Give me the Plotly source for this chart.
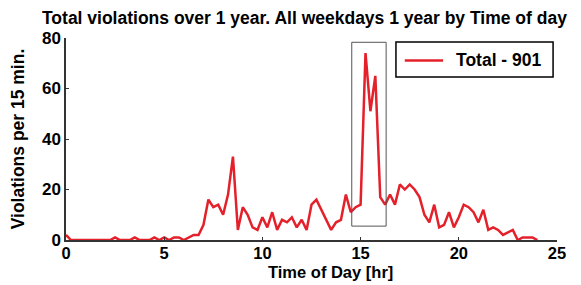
import plotly.graph_objects as go

hours = [i * 0.25 for i in range(97)]
violations = [
    2, 0, 0, 0, 0, 0, 0, 0,      # 0-1.75
    0, 0, 1, 0, 0, 0, 1, 0,      # 2-3.75
    0, 0, 1, 0, 1, 0, 1, 1,      # 4-5.75
    0, 1, 2, 2, 6, 16, 13, 14,   # 6-7.75
    10, 18, 33, 4, 13, 10, 5, 4,  # 8-9.75
    9, 5, 11, 4, 8, 7, 9, 5,     # 10-11.75
    8, 4, 14, 16, 12, 8, 4, 7,   # 12-13.75
    8, 18, 11, 13, 14, 74, 51, 65,  # 14-15.75
    17, 14, 18, 14, 22, 20, 22, 20,  # 16-17.75
    17, 10, 7, 14, 5, 6, 11, 5,  # 18-19.75
    9, 14, 13, 11, 7, 12, 4, 5,  # 20-21.75
    4, 2, 3, 4, 0, 1, 1, 1,      # 22-23.75
    0,                           # 24
]
series_name = "Total - 901"
title_text = "Total violations over 1 year. All weekdays 1 year by Time of day"
x_title = "Time of Day [hr]"
y_title = "Violations per 15 min."
x_ticks = [0, 5, 10, 15, 20, 25]
y_ticks = [0, 20, 40, 60, 80]
box_x = [14.55, 16.3]
box_y = [5.5, 78.3]

font_family = "Liberation Sans, Arial, sans-serif"
red = "#e4202a"

fig = go.Figure()
fig.add_trace(go.Scatter(
    x=hours, y=violations, mode="lines", name=series_name,
    line=dict(color=red, width=2.5), showlegend=False,
))

# highlight box around the afternoon peak
fig.add_shape(type="rect", xref="x", yref="y",
              x0=box_x[0], x1=box_x[1], y0=box_y[0], y1=box_y[1],
              line=dict(color="#555555", width=1))

# legend (drawn as a boxed key)
fig.add_shape(type="rect", xref="paper", yref="paper",
              x0=0.672, x1=0.992, y0=0.807, y1=0.980,
              line=dict(color="black", width=1.5), fillcolor="white")
fig.add_shape(type="line", xref="paper", yref="paper",
              x0=0.690, x1=0.768, y0=0.889, y1=0.889,
              line=dict(color=red, width=2.5))
fig.add_annotation(xref="paper", yref="paper", x=0.790, y=0.889,
                   xanchor="left", yanchor="middle", showarrow=False,
                   text="<b>" + series_name + "</b>",
                   font=dict(size=17.5, color="black"))

# x-axis title
fig.add_annotation(xref="paper", yref="paper", x=0.538, y=0,
                   xanchor="center", yanchor="middle", yshift=-32,
                   showarrow=False, text="<b>" + x_title + "</b>",
                   font=dict(size=16.5, color="black"))

fig.update_layout(
    width=573, height=277,
    margin=dict(l=58, r=24, t=30, b=45, autoexpand=False),
    paper_bgcolor="white", plot_bgcolor="white",
    font=dict(family=font_family, size=17, color="black"),
    title=dict(text="<b>" + title_text + "</b>", x=0.0593, xanchor="left",
               y=0.985, yanchor="top", font=dict(size=17.5, color="black")),
    showlegend=False,
    xaxis=dict(range=[0, 25], tickvals=x_ticks,
               ticktext=["<b>%d</b>" % v for v in x_ticks],
               ticks="inside", ticklen=3, tickcolor="#333",
               ticklabelstandoff=-3,
               showline=True, linecolor="#333", linewidth=1.5,
               showgrid=False, zeroline=False, automargin=False,
               tickfont=dict(size=16.5)),
    yaxis=dict(range=[0, 80], tickvals=y_ticks,
               ticktext=["<b>%d</b>" % v for v in y_ticks],
               ticks="inside", ticklen=3, tickcolor="#333",
               showline=True, linecolor="#333", linewidth=1.5,
               showgrid=False, zeroline=False, automargin=False,
               tickfont=dict(size=17),
               title=dict(text="<b>" + y_title + "</b>", standoff=16,
                          font=dict(size=17.5))),
)

fig.write_html("out.html")
